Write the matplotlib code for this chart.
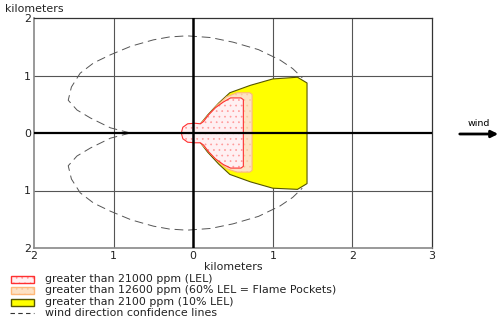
import matplotlib.pyplot as plt
from matplotlib.patches import Polygon, Rectangle
from matplotlib.lines import Line2D

# threat zones (km downwind x, crosswind y)
red_x = [-0.15, -0.13, -0.07, 0.02, 0.09, 0.13, 0.19, 0.28, 0.38, 0.47, 0.60, 0.63,
         0.63, 0.60, 0.47, 0.38, 0.28, 0.19, 0.13, 0.09, 0.02, -0.07, -0.13]
red_y = [0.0, 0.10, 0.16, 0.17, 0.16, 0.20, 0.31, 0.44, 0.54, 0.61, 0.61, 0.58,
         -0.58, -0.61, -0.61, -0.55, -0.45, -0.32, -0.21, -0.17, -0.17, -0.16, -0.10]

orange_x = [0.10, 0.19, 0.30, 0.42, 0.55, 0.71, 0.74, 0.74, 0.71, 0.55, 0.42, 0.30, 0.19, 0.10]
orange_y = [0.17, 0.31, 0.48, 0.63, 0.70, 0.70, 0.67, -0.65, -0.68, -0.68, -0.62, -0.48, -0.32, -0.18]

yellow_x = [0.08, 0.18, 0.32, 0.46, 0.72, 1.00, 1.31, 1.43, 1.43, 1.31, 1.00, 0.72, 0.46, 0.32, 0.18, 0.08]
yellow_y = [0.14, 0.31, 0.52, 0.70, 0.83, 0.94, 0.97, 0.87, -0.88, -0.98, -0.96, -0.85, -0.72, -0.54, -0.33, -0.15]

# wind direction confidence lines (upper one; lower one is its mirror)
conf_x = [-0.79, -1.04, -1.29, -1.46, -1.57, -1.53, -1.42, -1.25, -1.04, -0.78, -0.50,
          -0.30, -0.08, 0.22, 0.50, 0.82, 1.09, 1.25, 1.37]
conf_y = [0.0, 0.09, 0.26, 0.40, 0.57, 0.80, 1.04, 1.22, 1.36, 1.51, 1.62,
          1.67, 1.69, 1.66, 1.58, 1.45, 1.27, 1.12, 0.96]

xticks = [-2, -1, 0, 1, 2, 3]
yticks = [-2, -1, 0, 1, 2]

labels = ['greater than 21000 ppm (LEL)',
          'greater than 12600 ppm (60% LEL = Flame Pockets)',
          'greater than 2100 ppm (10% LEL)',
          'wind direction confidence lines']

plt.rcParams['font.family'] = 'DejaVu Sans'
plt.rcParams['hatch.linewidth'] = 0.5

FS = 7.9

red_fill = dict(facecolor='#fff0f2', edgecolor='#ff9a9a', hatch='...', lw=0)
orange_fill = dict(facecolor='#fde2c4', edgecolor='#f8c8a0', hatch='...', lw=0)


def zone(ax, xs, ys, fill, edge, z):
    pts = list(zip(xs, ys))
    ax.add_patch(Polygon(pts, closed=True, zorder=z, **fill))
    ax.add_patch(Polygon(pts, closed=True, fill=False, edgecolor=edge, lw=0.8, zorder=z))


fig = plt.figure(figsize=(5.02, 3.2), dpi=100)
ax = fig.add_axes([34/502, 72/320, 398/502, 230/320])
ax.set_xlim(-2, 3)
ax.set_ylim(-2, 2)

for v in [-1, 1, 2]:
    ax.axvline(v, color='#555555', lw=0.8, zorder=1)
for v in [-1, 1]:
    ax.axhline(v, color='#555555', lw=0.8, zorder=1)

zone(ax, yellow_x, yellow_y, dict(facecolor='#ffff00', lw=0), '#555500', 2)
zone(ax, orange_x, orange_y, orange_fill, '#ffb878', 3)
zone(ax, red_x, red_y, red_fill, '#ff3030', 4)

ax.plot(conf_x, conf_y, color='#555555', lw=0.7, dashes=(9, 5), zorder=5)
ax.plot(conf_x, [-v for v in conf_y], color='#555555', lw=0.7, dashes=(9, 5), zorder=5)

ax.axhline(0, color='black', lw=1.6, zorder=6)
ax.axvline(0, color='black', lw=1.8, zorder=6)

for s in ['left', 'bottom']:
    ax.spines[s].set_color('#888888')
    ax.spines[s].set_linewidth(1.2)
for s in ['top', 'right']:
    ax.spines[s].set_color('#333333')
    ax.spines[s].set_linewidth(0.9)

ax.set_xticks(xticks)
ax.set_xticklabels([str(abs(t)) for t in xticks])
ax.set_yticks(yticks)
ax.set_yticklabels([str(abs(t)) for t in yticks])
ax.tick_params(length=0, labelsize=FS, colors='#222222', pad=2)
ax.set_xlabel('kilometers', fontsize=FS, labelpad=1, color='#222222')
fig.text(5/502, 1 - 9/320, 'kilometers', fontsize=FS, va='center', color='#222222')

# wind arrow
fig.text(468/502, 1 - 124/320, 'wind', fontsize=6.8, va='center')
ax.annotate('', xy=(501/502, 1 - 134/320), xytext=(457/502, 1 - 134/320),
            xycoords='figure fraction', textcoords='figure fraction',
            arrowprops=dict(arrowstyle='-|>', color='black', lw=2, mutation_scale=10))

# legend
rows = [279, 290, 302, 313]
styles = [(red_fill, '#ff3030'), (orange_fill, '#ffb878'),
          (dict(facecolor='#ffff00', lw=0), '#555500')]
for r, (fill, edge) in zip(rows[:3], styles):
    box = (11/502, 1 - (r + 3.5)/320)
    fig.patches.append(Rectangle(box, 23/502, 7/320, transform=fig.transFigure, **fill))
    fig.patches.append(Rectangle(box, 23/502, 7/320, transform=fig.transFigure,
                                 fill=False, edgecolor=edge, lw=1))
fig.lines.append(Line2D([10/502, 34/502], [1 - rows[3]/320] * 2, transform=fig.transFigure,
                        color='#333333', lw=0.8, dashes=(4, 3)))
for r, lab in zip(rows, labels):
    fig.text(45/502, 1 - r/320, lab, fontsize=FS, va='center', color='#222222')

fig.savefig('out.png', dpi=100)
